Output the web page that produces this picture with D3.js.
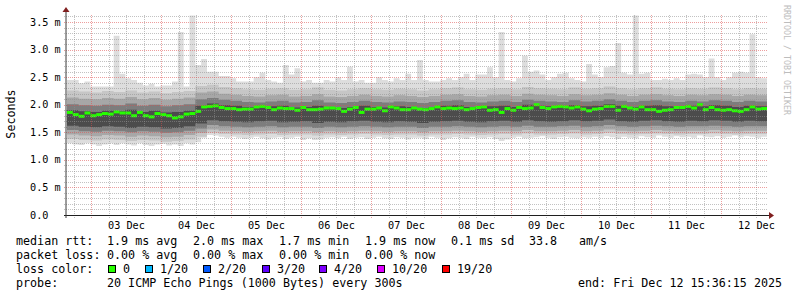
<!DOCTYPE html>
<meta charset="utf-8">
<style>
  body { margin: 0; background: #fff; }
  svg text { font-family: "DejaVu Sans Mono", monospace; fill: #000; }
  .legend text { font-size: 11.7px; }
  .axislabel { font-size: 10.2px; }
</style>
<body>
<div id="chart"></div>
<script src="https://d3js.org/d3.v7.js"></script>
<script>
// 2 hour steps, 120 of them, Dec 2 15:36:15 -> Dec 12 15:36:15 (values in ms)
const median = [
  1.86,1.82,1.79,1.85,1.80,1.82,1.84,1.83,1.87,1.85,1.85,1.80,1.86,1.80,1.78,1.84,1.82,1.80,1.76,1.78,1.83,1.84,1.88,1.96,1.97,1.98,1.95,1.93,1.93,1.91,
  1.92,1.92,1.96,1.97,1.95,1.91,1.94,1.93,1.93,1.90,1.95,1.91,1.91,1.92,1.94,1.94,1.93,1.88,1.92,1.95,1.86,1.92,1.92,1.94,1.89,1.96,1.94,1.91,1.91,1.94,
  1.92,1.91,1.93,1.96,1.93,1.94,1.93,1.94,1.91,1.93,1.95,1.96,1.90,1.91,1.86,1.93,1.90,1.95,1.93,1.94,2.00,1.95,1.93,1.96,1.97,1.96,1.94,1.96,1.92,1.89,
  1.92,1.93,1.97,1.97,1.90,1.97,1.94,1.92,1.96,1.91,1.91,1.88,1.90,1.91,1.95,1.95,1.97,1.94,2.00,1.91,1.95,1.91,1.90,1.91,1.89,1.88,1.91,1.96,1.92,1.93
];
const pingMax = [
  2.45,2.45,2.39,2.42,2.33,2.33,2.33,2.33,3.25,2.56,2.48,2.45,2.40,2.35,2.38,2.33,2.35,2.35,2.42,3.32,2.33,3.62,2.72,2.83,2.60,2.60,2.52,2.52,2.48,2.42,
  2.42,2.42,2.50,2.58,2.45,2.42,2.40,2.72,2.55,2.66,2.42,2.45,2.40,2.40,2.45,2.42,2.50,2.45,2.69,2.42,2.45,2.40,2.40,2.50,2.45,2.42,2.48,2.45,2.56,2.45,
  2.81,2.45,2.42,2.42,2.45,2.48,2.45,2.50,2.56,2.45,2.55,2.55,2.68,2.50,3.32,2.45,2.42,2.48,2.89,2.60,2.62,2.55,2.45,2.50,2.56,2.58,2.48,2.45,2.42,2.74,
  2.55,2.50,2.68,2.70,3.12,2.58,2.55,3.62,2.56,2.58,2.45,2.45,2.47,2.45,2.48,2.45,2.55,2.56,2.55,2.50,2.84,2.50,2.45,2.50,2.58,2.60,2.58,3.28,2.50,2.48
];
const pingMin = [
  1.30,1.28,1.27,1.30,1.28,1.25,1.28,1.30,1.27,1.30,1.28,1.26,1.30,1.27,1.25,1.28,1.29,1.26,1.28,1.25,1.30,1.28,1.32,1.40,1.45,1.44,1.42,1.40,1.42,1.40,
  1.38,1.40,1.42,1.39,1.37,1.40,1.41,1.38,1.40,1.42,1.36,1.39,1.36,1.37,1.40,1.41,1.39,1.42,1.38,1.40,1.41,1.38,1.40,1.42,1.39,1.38,1.41,1.40,1.37,1.40,
  1.40,1.38,1.42,1.40,1.36,1.39,1.41,1.40,1.38,1.42,1.40,1.39,1.41,1.38,1.34,1.37,1.40,1.42,1.39,1.40,1.41,1.43,1.40,1.38,1.41,1.42,1.40,1.39,1.41,1.40,
  1.42,1.40,1.43,1.41,1.38,1.42,1.40,1.39,1.43,1.41,1.40,1.44,1.42,1.40,1.43,1.41,1.42,1.40,1.44,1.42,1.41,1.43,1.40,1.42,1.44,1.41,1.43,1.42,1.40,1.42
];

// inner smoke bands, 4 hour steps (60 values)
const hi2 = [2.26,2.24,2.22,2.25,2.23,2.26,2.22,2.24,2.21,2.23,2.25,2.34,
  2.36,2.32,2.30,2.28,2.27,2.29,2.30,2.27,2.28,2.31,2.27,2.26,2.28,2.30,2.28,2.27,2.29,2.28,2.26,2.28,
  2.30,2.31,2.28,2.27,2.29,2.30,2.28,2.32,2.30,2.29,2.28,2.31,2.29,2.30,2.33,2.30,2.28,2.30,2.31,2.29,
  2.28,2.30,2.29,2.31,2.30,2.28,2.30,2.29];
const hi3 = [2.13,2.11,2.10,2.12,2.11,2.14,2.10,2.12,2.09,2.11,2.13,2.22,
  2.24,2.20,2.18,2.16,2.15,2.17,2.18,2.15,2.16,2.19,2.15,2.14,2.16,2.18,2.16,2.15,2.17,2.16,2.14,2.16,
  2.18,2.19,2.16,2.15,2.17,2.18,2.16,2.20,2.18,2.17,2.16,2.19,2.17,2.18,2.21,2.18,2.16,2.18,2.19,2.17,
  2.16,2.18,2.17,2.19,2.18,2.16,2.18,2.17];
const hi4 = [2.01,1.99,1.98,2.00,1.99,2.02,1.98,2.00,1.97,1.99,2.01,2.10,
  2.12,2.09,2.07,2.05,2.04,2.06,2.07,2.04,2.05,2.08,2.04,2.03,2.05,2.07,2.05,2.04,2.06,2.05,2.03,2.05,
  2.07,2.08,2.05,2.04,2.06,2.07,2.05,2.09,2.07,2.06,2.05,2.08,2.06,2.07,2.10,2.07,2.05,2.07,2.08,2.06,
  2.05,2.07,2.06,2.08,2.07,2.05,2.07,2.06];
const hi5 = [1.90,1.88,1.87,1.89,1.88,1.91,1.87,1.89,1.86,1.87,1.89,1.98,
  2.02,1.99,1.98,1.96,1.95,1.97,1.98,1.95,1.96,1.98,1.95,1.94,1.96,1.98,1.96,1.95,1.97,1.96,1.94,1.96,
  1.98,1.99,1.96,1.95,1.97,1.98,1.96,2.00,1.98,1.97,1.96,1.99,1.97,1.98,2.01,1.98,1.96,1.98,1.99,1.97,
  1.96,1.98,1.97,1.99,1.98,1.96,1.98,1.97];
const lo5 = [1.62,1.60,1.59,1.61,1.60,1.58,1.60,1.59,1.57,1.58,1.61,1.66,
  1.72,1.70,1.69,1.68,1.70,1.71,1.68,1.69,1.70,1.67,1.69,1.68,1.70,1.71,1.69,1.68,1.70,1.69,1.67,1.69,
  1.70,1.71,1.69,1.68,1.70,1.71,1.69,1.72,1.70,1.69,1.70,1.72,1.70,1.71,1.73,1.70,1.69,1.71,1.72,1.70,
  1.69,1.71,1.70,1.72,1.71,1.69,1.71,1.70];
const lo4 = [1.54,1.52,1.51,1.53,1.52,1.50,1.52,1.51,1.49,1.50,1.53,1.57,
  1.63,1.61,1.60,1.59,1.60,1.61,1.59,1.60,1.60,1.58,1.60,1.59,1.60,1.61,1.60,1.59,1.60,1.60,1.58,1.60,
  1.60,1.61,1.60,1.59,1.60,1.61,1.60,1.62,1.60,1.60,1.61,1.62,1.60,1.61,1.63,1.61,1.60,1.61,1.62,1.61,
  1.60,1.61,1.61,1.62,1.61,1.60,1.61,1.61];
const lo3 = [1.46,1.44,1.43,1.45,1.44,1.42,1.44,1.43,1.41,1.42,1.45,1.49,
  1.55,1.53,1.52,1.51,1.52,1.53,1.51,1.52,1.52,1.50,1.52,1.51,1.52,1.53,1.52,1.51,1.52,1.52,1.50,1.52,
  1.52,1.53,1.52,1.51,1.52,1.53,1.52,1.54,1.52,1.52,1.53,1.54,1.52,1.53,1.55,1.53,1.52,1.53,1.54,1.53,
  1.52,1.53,1.53,1.54,1.53,1.52,1.53,1.53];
const lo2 = [1.38,1.36,1.35,1.37,1.36,1.34,1.36,1.35,1.33,1.34,1.37,1.42,
  1.49,1.47,1.46,1.45,1.46,1.47,1.45,1.46,1.46,1.44,1.46,1.45,1.46,1.47,1.46,1.45,1.46,1.46,1.44,1.46,
  1.46,1.47,1.46,1.45,1.46,1.47,1.46,1.48,1.46,1.46,1.47,1.48,1.46,1.47,1.49,1.47,1.46,1.47,1.48,1.47,
  1.46,1.47,1.47,1.48,1.47,1.46,1.47,1.47];

const lossLabels = ["0", "1/20", "2/20", "3/20", "4/20", "10/20", "19/20"];
const lossColors = ["#26ff00", "#00b8ff", "#0059ff", "#5e00ff", "#7e00ff", "#dd00ff", "#ff0000"];

const HOUR = 3600 * 1000;
const tStart = new Date(Date.UTC(2025, 11, 2, 15, 36, 15));
const tEnd = new Date(Date.UTC(2025, 11, 12, 15, 36, 15));

const W = 797, H = 297;
const plotL = 67, plotR = 767, plotT = 15, plotB = 215;

const svg = d3.select("#chart").append("svg")
  .attr("width", W).attr("height", H);

const x = d3.scaleUtc().domain([tStart, tEnd]).range([plotL, plotR]);
const y = d3.scaleLinear().domain([0, 3.627]).range([plotB, plotT]);

// build step points with a trailing copy so curveStepAfter reaches the end
function steps(lo, hi, stepH) {
  const pts = lo.map((v, i) => ({ t: new Date(+tStart + i * stepH * HOUR), lo: v, hi: hi[i] }));
  const last = pts[pts.length - 1];
  pts.push({ t: new Date(+tStart + lo.length * stepH * HOUR), lo: last.lo, hi: last.hi });
  return pts;
}

const area = d3.area()
  .curve(d3.curveStepAfter)
  .x(d => x(d.t))
  .y0(d => y(d.lo))
  .y1(d => y(d.hi));

const smoke = [
  { lo: pingMin, hi: pingMax, h: 2, color: "#dddddd" },
  { lo: lo2, hi: hi2, h: 4, color: "#c6c6c6" },
  { lo: lo3, hi: hi3, h: 4, color: "#a7a7a7" },
  { lo: lo4, hi: hi4, h: 4, color: "#7d7d7d" },
  { lo: lo5, hi: hi5, h: 4, color: "#4c4c4c" }
];

const plot = svg.append("g");
plot.append("defs").append("clipPath").attr("id", "clip")
  .append("rect").attr("x", plotL).attr("y", plotT - 5)
  .attr("width", plotR - plotL).attr("height", plotB - plotT + 5);

plot.selectAll("path.smoke")
  .data(smoke)
  .join("path")
  .attr("class", "smoke")
  .attr("clip-path", "url(#clip)")
  .attr("d", d => area(steps(d.lo, d.hi, d.h)))
  .attr("fill", d => d.color);

// median: short green bar per step
plot.selectAll("rect.median")
  .data(median)
  .join("rect")
  .attr("class", "median")
  .attr("x", (d, i) => x(new Date(+tStart + i * 2 * HOUR)))
  .attr("width", (d, i) => x(new Date(+tStart + (i + 1) * 2 * HOUR)) - x(new Date(+tStart + i * 2 * HOUR)))
  .attr("y", d => y(d) - 1.5)
  .attr("height", 3)
  .attr("fill", lossColors[0]);

// grid
const grid = svg.append("g");
const yMinor = d3.range(1, 37).map(v => v / 10).filter(v => Math.round(v * 10) % 5 !== 0);
const yMajor = d3.range(0, 8).map(v => v * 0.5);
const xMinor = d3.utcHour.every(6).range(tStart, tEnd).filter(d => d.getUTCHours() !== 0);
const xMajor = d3.utcDay.range(tStart, tEnd);

grid.selectAll("line.ymin").data(yMinor).join("line")
  .attr("x1", plotL - 3).attr("x2", plotR)
  .attr("y1", d => Math.round(y(d)) + 0.5).attr("y2", d => Math.round(y(d)) + 0.5)
  .attr("stroke", "rgba(143,143,143,0.55)").attr("stroke-dasharray", "1,1");
grid.selectAll("line.xmin").data(xMinor).join("line")
  .attr("x1", d => Math.round(x(d)) + 0.5).attr("x2", d => Math.round(x(d)) + 0.5)
  .attr("y1", plotT).attr("y2", plotB + 3)
  .attr("stroke", "rgba(143,143,143,0.55)").attr("stroke-dasharray", "1,1");
grid.selectAll("line.ymaj").data(yMajor.filter(v => v > 0)).join("line")
  .attr("x1", plotL - 3).attr("x2", plotR)
  .attr("y1", d => Math.round(y(d)) + 0.5).attr("y2", d => Math.round(y(d)) + 0.5)
  .attr("stroke", "rgba(222,79,79,0.55)").attr("stroke-dasharray", "1,1");
grid.selectAll("line.xmaj").data(xMajor).join("line")
  .attr("x1", d => Math.round(x(d)) + 0.5).attr("x2", d => Math.round(x(d)) + 0.5)
  .attr("y1", plotT).attr("y2", plotB + 3)
  .attr("stroke", "rgba(222,79,79,0.55)").attr("stroke-dasharray", "1,1");

// axes + arrows
svg.append("line").attr("x1", plotL - 3).attr("x2", plotR + 4)
  .attr("y1", plotB + 0.5).attr("y2", plotB + 0.5).attr("stroke", "#1f1f1f");
svg.append("line").attr("x1", 66).attr("x2", 66)
  .attr("y1", plotB + 3).attr("y2", plotT - 4).attr("stroke", "#3a3a3a");
svg.append("path").attr("d", `M${plotR + 2},${plotB - 3} L${plotR + 7},${plotB + 0.5} L${plotR + 2},${plotB + 4} Z`)
  .attr("fill", "#801f1f");
svg.append("path").attr("d", `M62.5,${plotT - 3} L66,${plotT - 8} L69.5,${plotT - 3} Z`)
  .attr("fill", "#801f1f");

// y tick labels
svg.selectAll("text.ylab").data(yMajor).join("text")
  .attr("class", "axislabel")
  .attr("x", 30)
  .attr("y", d => y(d) + 3.5)
  .text(d => d === 0 ? "0.0" : d3.format(".1f")(d) + " m");

// x tick labels at noon
svg.selectAll("text.xlab").data(xMajor).join("text")
  .attr("class", "axislabel")
  .attr("x", d => x(new Date(+d + 12 * HOUR)))
  .attr("y", 229)
  .attr("text-anchor", "middle")
  .text(d => d3.utcFormat("%d %b")(d));

svg.append("text")
  .attr("transform", "translate(15,114) rotate(-90)")
  .attr("text-anchor", "middle")
  .style("font-size", "11.7px")
  .text("Seconds");

svg.append("text")
  .attr("transform", "translate(784,5) rotate(90)")
  .style("font-size", "8.3px")
  .style("fill", "#bdbdbd")
  .text("RRDTOOL / TOBI OETIKER");

// legend
const lg = svg.append("g").attr("class", "legend");
const rows = [
  { y: 245, items: [[16, "median rtt:"], [107, "1.9 ms avg"], [193, "2.0 ms max"], [279, "1.7 ms min"], [365, "1.9 ms now"], [451, "0.1 ms sd"], [529, "33.8"], [579, "am/s"]] },
  { y: 259, items: [[16, "packet loss:"], [107, "0.00 % avg"], [193, "0.00 % max"], [279, "0.00 % min"], [365, "0.00 % now"]] },
  { y: 273, items: [[16, "loss color:"]] },
  { y: 287, items: [[16, "probe:"], [107, "20 ICMP Echo Pings (1000 Bytes) every 300s"], [578, "end: Fri Dec 12 15:36:15 2025"]] }
];
rows.forEach(r => {
  r.items.forEach(it => {
    lg.append("text").attr("x", it[0]).attr("y", r.y).text(it[1]);
  });
});

const boxX = [108, 145, 203, 262, 319, 377, 442];
const labX = [123, 160, 218, 277, 334, 392, 457];
lg.selectAll("rect.box").data(lossColors).join("rect")
  .attr("x", (d, i) => boxX[i] + 0.5).attr("y", 265.5)
  .attr("width", 7).attr("height", 7)
  .attr("fill", d => d).attr("stroke", "#000");
lg.selectAll("text.loss").data(lossLabels).join("text")
  .attr("x", (d, i) => labX[i]).attr("y", 273)
  .text(d => d);
</script>
</body>
</html>
